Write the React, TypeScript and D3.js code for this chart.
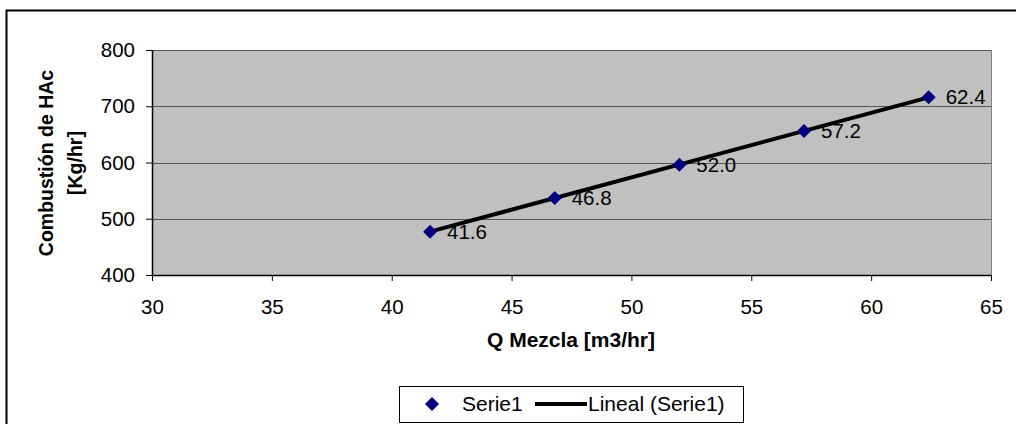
import { useRef, useEffect } from 'react';
import * as d3 from 'd3';

const qMezcla = [41.6, 46.8, 52.0, 57.2, 62.4];
const combustion = [477, 537, 596, 656, 716];
const pointLabels = ['41.6', '46.8', '52.0', '57.2', '62.4'];
const xTicks = [30, 35, 40, 45, 50, 55, 60, 65];
const yTicks = [400, 500, 600, 700, 800];

export default function App() {
  const svgRef = useRef<SVGSVGElement>(null);

  useEffect(() => {
    if (!svgRef.current) return;
    const svg = d3.select(svgRef.current);
    svg.selectAll('*').remove();

    const font = '"Liberation Sans", Arial, sans-serif';
    const plot = { left: 152, right: 991, top: 50, bottom: 275 };

    const x = d3.scaleLinear().domain([30, 65]).range([plot.left, plot.right]);
    const y = d3.scaleLinear().domain([400, 800]).range([plot.bottom, plot.top]);

    // outer frame (only left/top visible)
    svg.append('rect')
      .attr('x', 6.5).attr('y', 10.5)
      .attr('width', 1040).attr('height', 440)
      .attr('fill', 'white').attr('stroke', '#000').attr('stroke-width', 2);

    // plot background
    svg.append('rect')
      .attr('x', plot.left).attr('y', plot.top)
      .attr('width', plot.right - plot.left).attr('height', plot.bottom - plot.top)
      .attr('fill', '#c0c0c0');

    // gridlines
    yTicks.forEach(t => {
      svg.append('line')
        .attr('x1', plot.left).attr('x2', plot.right)
        .attr('y1', Math.round(y(t)) + 0.5).attr('y2', Math.round(y(t)) + 0.5)
        .attr('stroke', '#555').attr('stroke-width', 1);
    });

    // right border of plot
    svg.append('line')
      .attr('x1', plot.right + 0.5).attr('x2', plot.right + 0.5)
      .attr('y1', plot.top).attr('y2', plot.bottom)
      .attr('stroke', '#808080').attr('stroke-width', 1);

    // axes
    const xAxis = svg.append('g')
      .attr('transform', `translate(0,${plot.bottom})`)
      .call(d3.axisBottom(x).tickValues(xTicks).tickSize(6).tickSizeOuter(0).tickPadding(18));
    const yAxis = svg.append('g')
      .attr('transform', `translate(${plot.left},0)`)
      .call(d3.axisLeft(y).tickValues(yTicks).tickSize(6).tickSizeOuter(0).tickPadding(11));

    [xAxis, yAxis].forEach(a => {
      a.select('.domain').attr('stroke', '#000').attr('stroke-width', 1.5);
      a.selectAll('line').attr('stroke', '#000');
      a.selectAll('text')
        .attr('font-family', font).attr('font-size', 20.5).attr('fill', '#000');
    });

    // trendline (least squares)
    const mx = d3.mean(qMezcla)!;
    const my = d3.mean(combustion)!;
    const slope = d3.sum(qMezcla, (q, i) => (q - mx) * (combustion[i] - my)) /
      d3.sum(qMezcla, q => (q - mx) ** 2);
    const inter = my - slope * mx;
    const x0 = d3.min(qMezcla)!;
    const x1 = d3.max(qMezcla)!;
    svg.append('line')
      .attr('x1', x(x0)).attr('y1', y(inter + slope * x0))
      .attr('x2', x(x1)).attr('y2', y(inter + slope * x1))
      .attr('stroke', '#000').attr('stroke-width', 4);

    // markers
    const diamond = d3.symbol().type(d3.symbolDiamond2).size(125);
    qMezcla.forEach((q, i) => {
      svg.append('path')
        .attr('d', diamond()!)
        .attr('transform', `translate(${x(q)},${y(combustion[i])})`)
        .attr('fill', '#000080');
    });

    // data labels
    qMezcla.forEach((q, i) => {
      svg.append('text')
        .attr('x', x(q) + 17).attr('y', y(combustion[i]) + 7)
        .attr('font-family', font).attr('font-size', 20.5).attr('fill', '#000')
        .text(pointLabels[i]);
    });

    // axis titles
    svg.append('text')
      .attr('x', 571).attr('y', 347)
      .attr('text-anchor', 'middle')
      .attr('font-family', font).attr('font-size', 21).attr('font-weight', 'bold')
      .text('Q Mezcla [m3/hr]');

    const yTitle = svg.append('text')
      .attr('transform', `translate(53,163) rotate(-90)`)
      .attr('text-anchor', 'middle')
      .attr('font-family', font).attr('font-size', 19.5).attr('font-weight', 'bold');
    yTitle.append('tspan').attr('x', 0).attr('dy', 0).text('Combustión de HAc');
    yTitle.append('tspan').attr('x', 0).attr('dy', 29).text('[Kg/hr]');

    // legend
    const lg = svg.append('g');
    lg.append('rect')
      .attr('x', 399.5).attr('y', 386.5).attr('width', 344).attr('height', 36)
      .attr('fill', 'white').attr('stroke', '#000').attr('stroke-width', 1);
    lg.append('path')
      .attr('d', diamond()!)
      .attr('transform', 'translate(432,404)')
      .attr('fill', '#000080');
    lg.append('text')
      .attr('x', 462).attr('y', 411)
      .attr('font-family', font).attr('font-size', 21)
      .text('Serie1');
    lg.append('line')
      .attr('x1', 535).attr('x2', 587).attr('y1', 404).attr('y2', 404)
      .attr('stroke', '#000').attr('stroke-width', 4);
    lg.append('text')
      .attr('x', 588).attr('y', 411)
      .attr('font-family', font).attr('font-size', 21)
      .text('Lineal (Serie1)');
  }, []);

  return (
    <svg
      ref={svgRef}
      width={1016}
      height={424}
      style={{ position: 'absolute', left: 0, top: 0, background: 'white' }}
    />
  );
}
